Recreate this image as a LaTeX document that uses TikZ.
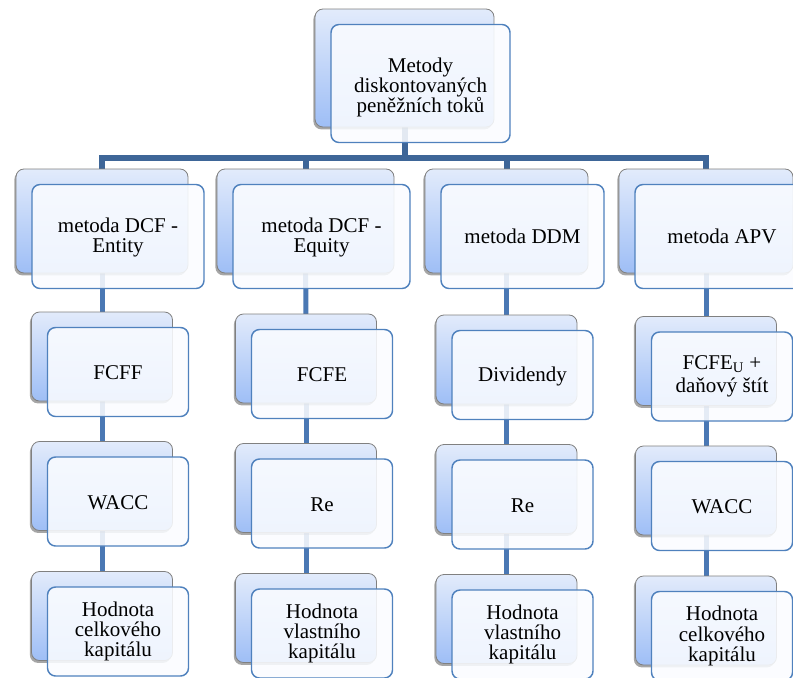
\documentclass[tikz,border=0pt]{standalone}
\usepackage{fontspec}
\setmainfont{Liberation Serif}
\usetikzlibrary{shadows}
\pgfdeclarelayer{background}
\pgfsetlayers{background,main}
\definecolor{busblue}{RGB}{62,102,152}
\definecolor{lineblue}{RGB}{74,120,180}
\definecolor{frontborder}{RGB}{79,129,189}
\definecolor{backtop}{RGB}{226,235,251}
\definecolor{backbot}{RGB}{158,190,246}
\definecolor{frontfill}{RGB}{250,252,255}
\definecolor{backborder}{RGB}{128,128,128}
\tikzset{
  backbox/.style={draw=backborder, line width=0.6pt, rounded corners=6pt,
    top color=backtop, bottom color=backbot, inner sep=0pt, outer sep=0pt,
    drop shadow={shadow xshift=-1.2pt, shadow yshift=-1.8pt, opacity=0.35, fill=black}},
  frontbox/.style={draw=frontborder, line width=1.1pt, rounded corners=6pt,
    fill=frontfill, fill opacity=0.88, inner sep=0pt, outer sep=0pt},
  boxtext/.style={inner sep=0pt, align=center, font=\fontsize{15.75pt}{15.3pt}\selectfont},
  busline/.style={draw=busblue, line width=4.5pt},
  colline/.style={draw=lineblue, line width=3.75pt},
}
% #1 = text shift (px, down), #2 name, #3 cx, #4 cy, #5 w, #6 h, #7 text
\newcommand\duo[7][0]{%
  \node[backbox, minimum width={#5*0.75pt}, minimum height={#6*0.75pt}] (#2-b) at (#3,#4) {};
  \node[frontbox, minimum width={#5*0.75pt}, minimum height={#6*0.75pt}] (#2) at ([shift={(16,15.5)}]#2-b.center) {};
  \node[boxtext] (#2-t) at ([shift={(0,#1)}]#2.center) {#7};
}
\begin{document}
\begin{tikzpicture}[x=0.75pt, y=-0.75pt]
\useasboundingbox (0,0) rectangle (793,678);
% top
\duo[4]{top}{404.5}{68}{179}{118}{Metody\\diskontovaných\\peněžních toků}
% row 1
\duo[1]{a1}{102}{221}{172}{104}{metoda DCF -\\Entity}
\duo[1]{b1}{305.5}{221}{177}{104}{metoda DCF -\\Equity}
\duo{c1}{506.5}{221}{163}{104}{metoda DDM}
\duo{d1}{706}{221}{174}{104}{metoda APV}
% column 1
\duo[1]{a2}{102}{356.5}{141}{89}{FCFF}
\duo[1]{a3}{102}{486}{141}{89}{WACC}
\duo{a4}{102}{616}{141}{89}{Hodnota\\celkového\\kapitálu}
% column 2
\duo[1]{b2}{306}{358.5}{141}{89}{FCFE}
\duo[1]{b3}{306}{488}{141}{89}{Re}
\duo{b4}{306}{618}{141}{89}{Hodnota\\vlastního\\kapitálu}
% column 3
\duo[1]{c2}{506.5}{359.5}{141}{89}{Dividendy}
\duo[1]{c3}{506.5}{489}{141}{89}{Re}
\duo{c4}{506.5}{619}{141}{89}{Hodnota\\vlastního\\kapitálu}
% column 4
\duo{d2}{706}{361}{141}{89}{FCFE\textsubscript{U} +\\[2pt]daňový štít}
\duo[1]{d3}{706}{490.5}{141}{89}{WACC}
\duo{d4}{706}{620.5}{141}{89}{Hodnota\\celkového\\kapitálu}
\coordinate (bus) at (404.5,158);
\begin{pgfonlayer}{background}
  \draw[busline] (top-b) -- (bus);
  \draw[busline] (a1-b) |- (bus);
  \draw[busline] (b1-b) |- (bus);
  \draw[busline] (c1-b) |- (bus);
  \draw[busline] (d1-b) |- (bus);
  \foreach \c in {a,b,c,d}{
    \draw[colline] (\c1-b) -- (\c2-b);
    \draw[colline] (\c2-b) -- (\c3-b);
    \draw[colline] (\c3-b) -- (\c4-b);
  }
\end{pgfonlayer}
\end{tikzpicture}
\end{document}
